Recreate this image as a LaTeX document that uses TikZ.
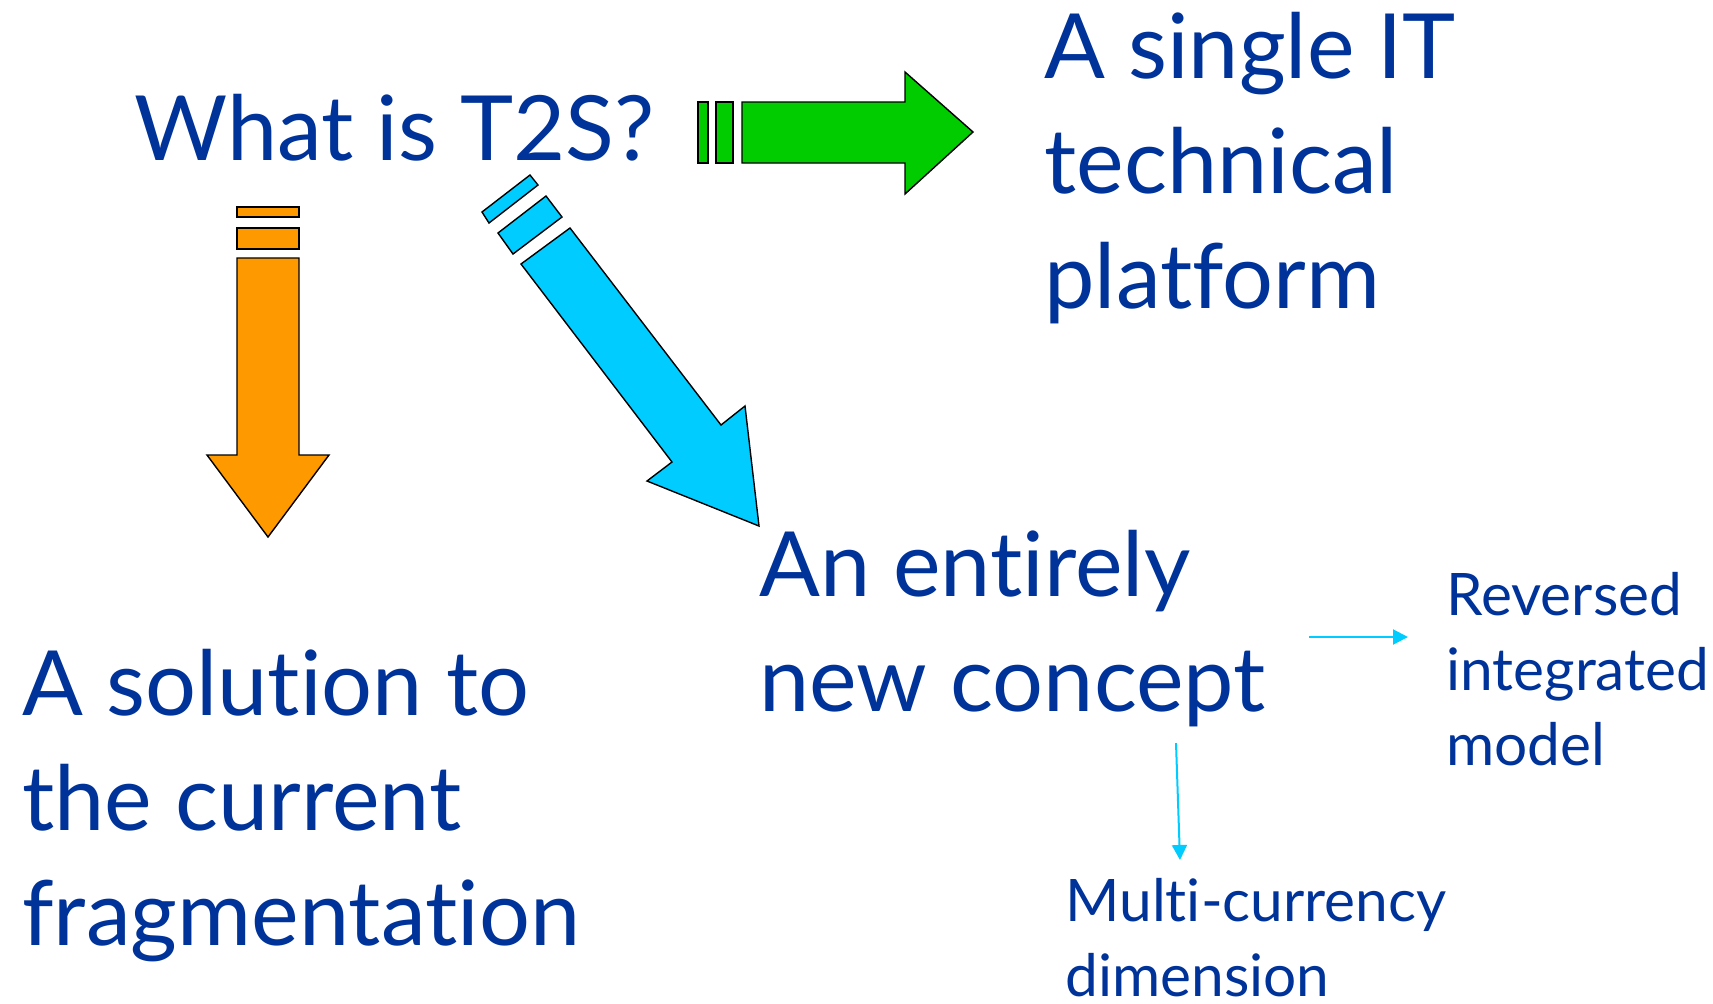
\documentclass[tikz,border=0pt]{standalone}
\usepackage{fontspec}
\setmainfont{Lato}[Ligatures=NoCommon]
\usepackage{xcolor}
\usepackage{tikz}
\usetikzlibrary{arrows.meta}

\definecolor{textblue}{HTML}{003399}
\definecolor{arrowgreen}{HTML}{00CC00}
\definecolor{arroworange}{HTML}{FF9900}
\definecolor{arrowcyan}{HTML}{00CCFF}

\tikzset{
	bigtext/.style={anchor=base west,inner sep=0pt,align=left,text=textblue,
		font=\fontsize{45}{57.5}\selectfont},
	smalltext/.style={anchor=base west,inner sep=0pt,align=left,text=textblue,
		font=\fontsize{29.3}{37.5}\selectfont},
	blockarrow/.style={draw=black,line width=0.7pt,line join=miter},
	thinarrow/.style={draw=arrowcyan,line width=1pt,
		-{Triangle[length=7.5pt,width=7.5pt]}}
}

\begin{document}
\begin{tikzpicture}[x=0.5pt,y=-0.5pt]
		\useasboundingbox (0,0) rectangle (1713,1003);
		%
		% texts (placed at the baseline of their last line)
		\node[bigtext] (T) at (134,160) {What is T2S?};
		\node[bigtext] (P) at (1044,308) {A single IT\\technical\\platform};
		\node[bigtext] (F) at (22,945) {A solution to\\the current\\fragmentation};
		\node[bigtext] (C) at (759,711) {An entirely\\new concept};
		\node[smalltext] (R) at (1446,765) {Reversed\\integrated\\model};
		\node[smalltext] (M) at (1065,996) {Multi-currency\\dimension};
		%
		% green arrow
		\filldraw[blockarrow,fill=arrowgreen] (698,102) rectangle (708,163);
		\filldraw[blockarrow,fill=arrowgreen] (716,102) rectangle (733,163);
		\filldraw[blockarrow,fill=arrowgreen] (742,102) -- (905,102) -- (905,72)
			-- (973,132) -- (905,194) -- (905,163) -- (742,163) -- cycle;
		% orange arrow
		\filldraw[blockarrow,fill=arroworange] (237,207) rectangle (299,217);
		\filldraw[blockarrow,fill=arroworange] (237,228) rectangle (299,249);
		\filldraw[blockarrow,fill=arroworange] (237,258) -- (299,258) -- (299,455)
			-- (329,455) -- (268,537) -- (207,455) -- (237,455) -- cycle;
		% cyan arrow
		\filldraw[blockarrow,fill=arrowcyan] (482,212) -- (530,175) -- (538,185)
			-- (489,223) -- cycle;
		\filldraw[blockarrow,fill=arrowcyan] (498,233) -- (546,196) -- (562,217)
			-- (513,254) -- cycle;
		\filldraw[blockarrow,fill=arrowcyan] (521,264) -- (570,228) -- (721,425)
			-- (745,406) -- (759,526) -- (647,481) -- (672,462) -- cycle;
		%
		% thin arrows
		\coordinate (c1) at (1309,637);
		\coordinate (r1) at (1408,637);
		\coordinate (c2) at (1176,743);
		\coordinate (m1) at (1180,860);
		\draw[thinarrow] (c1) -- (r1);
		\draw[thinarrow] (c2) -- (m1);
\end{tikzpicture}
\end{document}
